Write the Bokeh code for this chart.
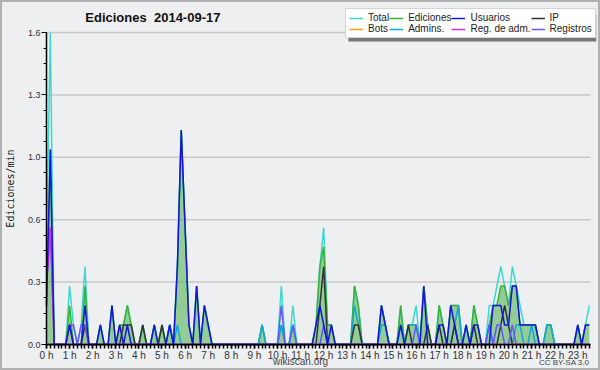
from bokeh.plotting import figure
from bokeh.models import (Range1d, FixedTicker, PrintfTickFormatter, CustomJSTickFormatter,
                          Legend, LegendItem, Label, BoxAnnotation, ColumnDataSource)
from bokeh.embed import file_html
from bokeh.resources import INLINE

# ---- data: edits per minute in 10-minute bins, 2014-09-17 (bin i starts at i*10 min) ----
bin_minutes = 10
total = [0.5, 1.6, 0, 0, 0, 0, 0.3, 0.1, 0, 0.1, 0.4, 0,
         0, 0, 0.1, 0, 0, 0.2, 0, 0.1, 0.1, 0.2, 0.1, 0,
         0, 0.1, 0, 0, 0.1, 0, 0.1, 0, 0.1, 0, 0.4, 1.1,
         0.6, 0.1, 0, 0.3, 0, 0.2, 0.1, 0, 0, 0, 0, 0,
         0, 0, 0, 0, 0, 0, 0, 0, 0.1, 0, 0, 0,
         0, 0.3, 0, 0, 0.2, 0, 0, 0, 0, 0, 0.1, 0.4,
         0.6, 0.1, 0.1, 0, 0, 0, 0, 0, 0.3, 0.2, 0, 0,
         0, 0, 0, 0.2, 0.1, 0, 0, 0, 0.2, 0, 0.1, 0.1,
         0.2, 0, 0.3, 0.1, 0, 0, 0.2, 0.1, 0, 0.2, 0.2, 0.2,
         0, 0.1, 0, 0.2, 0.1, 0, 0, 0.2, 0.2, 0.3, 0.4, 0.3,
         0.2, 0.4, 0.3, 0.2, 0.1, 0.1, 0.1, 0.1, 0, 0, 0.1, 0.1,
         0, 0, 0, 0, 0, 0, 0.1, 0, 0.1, 0.2]
ediciones = [0.2, 1.0, 0, 0, 0, 0, 0.2, 0, 0, 0, 0.3, 0,
             0, 0, 0.1, 0, 0, 0.2, 0, 0.1, 0.1, 0.2, 0.1, 0,
             0, 0.1, 0, 0, 0.1, 0, 0.1, 0, 0.1, 0, 0.4, 1.1,
             0.6, 0.1, 0, 0.3, 0, 0.2, 0.1, 0, 0, 0, 0, 0,
             0, 0, 0, 0, 0, 0, 0, 0, 0.1, 0, 0, 0,
             0, 0.1, 0, 0, 0.1, 0, 0, 0, 0, 0, 0.1, 0.4,
             0.5, 0.1, 0.1, 0, 0, 0, 0, 0, 0.3, 0.2, 0, 0,
             0, 0, 0, 0.2, 0.1, 0, 0, 0, 0.2, 0, 0.1, 0.1,
             0.1, 0, 0.3, 0.1, 0, 0, 0.2, 0.1, 0, 0.2, 0.2, 0.2,
             0, 0.1, 0, 0.2, 0.1, 0, 0, 0.1, 0.2, 0.2, 0.3, 0.3,
             0.2, 0.3, 0.3, 0.1, 0.1, 0.1, 0.1, 0.1, 0, 0, 0.1, 0.1,
             0, 0, 0, 0, 0, 0, 0.1, 0, 0.1, 0.1]
usuarios = [0.2, 1.0, 0, 0, 0, 0, 0.1, 0, 0, 0, 0.2, 0,
            0, 0, 0.1, 0, 0, 0.2, 0, 0.1, 0, 0.1, 0, 0,
            0, 0, 0, 0, 0.1, 0, 0, 0, 0.1, 0, 0.4, 1.1,
            0.6, 0.1, 0, 0.3, 0, 0.2, 0.1, 0, 0, 0, 0, 0,
            0, 0, 0, 0, 0, 0, 0, 0, 0, 0, 0, 0,
            0, 0, 0, 0, 0, 0, 0, 0, 0, 0, 0.1, 0.2,
            0.1, 0, 0.1, 0, 0, 0, 0, 0, 0, 0, 0, 0,
            0, 0, 0, 0.2, 0.1, 0, 0, 0, 0.1, 0, 0, 0,
            0, 0, 0.3, 0, 0, 0, 0.1, 0.1, 0, 0.2, 0.1, 0,
            0, 0.1, 0, 0.1, 0.1, 0, 0, 0, 0.2, 0.2, 0.2, 0.1,
            0.1, 0.3, 0.3, 0.1, 0.1, 0.1, 0.1, 0.1, 0, 0, 0, 0,
            0, 0, 0, 0, 0, 0, 0.1, 0, 0.1, 0.1]
ip = [0, 0, 0, 0, 0, 0, 0.1, 0, 0, 0, 0.1, 0,
      0, 0, 0, 0, 0, 0, 0, 0, 0.1, 0.1, 0.1, 0,
      0, 0.1, 0, 0, 0, 0, 0.1, 0, 0, 0, 0, 0,
      0, 0, 0, 0, 0, 0, 0, 0, 0, 0, 0, 0,
      0, 0, 0, 0, 0, 0, 0, 0, 0, 0, 0, 0,
      0, 0, 0, 0, 0, 0, 0, 0, 0, 0, 0, 0.2,
      0.4, 0, 0, 0, 0, 0, 0, 0, 0.1, 0.1, 0, 0,
      0, 0, 0, 0, 0, 0, 0, 0, 0, 0, 0.1, 0,
      0, 0, 0, 0.1, 0, 0, 0.1, 0, 0, 0, 0.1, 0,
      0, 0, 0, 0.1, 0, 0, 0, 0, 0, 0, 0.1, 0.2,
      0.1, 0, 0, 0, 0, 0, 0, 0, 0, 0, 0, 0,
      0, 0, 0, 0, 0, 0, 0, 0, 0, 0]
bots = [0] * 142
admins = [0, 0, 0, 0, 0, 0, 0, 0, 0, 0, 0, 0,
          0, 0, 0, 0, 0, 0, 0, 0, 0, 0, 0, 0,
          0, 0, 0, 0, 0, 0, 0, 0, 0.1, 0, 0.1, 0,
          0, 0, 0, 0, 0, 0, 0, 0, 0, 0, 0, 0,
          0, 0, 0, 0, 0, 0, 0, 0, 0.1, 0, 0, 0,
          0, 0.1, 0, 0, 0.1, 0, 0, 0, 0, 0, 0, 0,
          0, 0, 0, 0, 0, 0, 0, 0, 0.2, 0.1, 0, 0,
          0, 0, 0, 0.1, 0.1, 0, 0, 0, 0.1, 0, 0.1, 0.1,
          0.1, 0, 0, 0, 0, 0, 0, 0, 0, 0, 0.1, 0.2,
          0, 0, 0, 0, 0, 0, 0, 0.1, 0, 0, 0, 0,
          0, 0, 0.1, 0.1, 0, 0, 0.1, 0, 0, 0, 0.1, 0.1,
          0, 0, 0, 0, 0, 0, 0, 0, 0, 0]
reg_adm = [0.3, 0.6] + [0] * 140
registros = [0.3, 0.6, 0, 0, 0, 0, 0.1, 0.1, 0, 0.1, 0.1, 0,
             0, 0, 0, 0, 0, 0, 0, 0, 0, 0, 0, 0,
             0, 0, 0, 0, 0, 0, 0, 0, 0, 0, 0, 0,
             0, 0, 0, 0, 0, 0, 0, 0, 0, 0, 0, 0,
             0, 0, 0, 0, 0, 0, 0, 0, 0, 0, 0, 0,
             0, 0.2, 0, 0, 0.1, 0, 0, 0, 0, 0, 0, 0,
             0.1, 0, 0, 0, 0, 0, 0, 0, 0, 0, 0, 0,
             0, 0, 0, 0, 0, 0, 0, 0, 0, 0, 0, 0,
             0.1, 0, 0, 0, 0, 0, 0, 0, 0, 0, 0, 0,
             0, 0, 0, 0, 0, 0, 0, 0.1, 0, 0.1, 0.1, 0,
             0, 0.1, 0, 0, 0, 0, 0, 0, 0, 0, 0, 0,
             0, 0, 0, 0, 0, 0, 0, 0, 0, 0]

series_names = ["Total", "Ediciones", "Usuarios", "IP", "Bots", "Admins.", "Reg. de adm.", "Registros"]
y_ticks = [0, 0.32, 0.64, 0.96, 1.28, 1.6]
hour_ticks = list(range(24))
title_text = "Ediciones\u00a0 2014-09-17"

hours = [i * bin_minutes / 60 for i in range(len(total))]
x_end = 23.55
src = ColumnDataSource(dict(x=hours, total=total, ed=ediciones, us=usuarios, ip=ip, bots=bots,
                            adm=admins, radm=reg_adm, reg=registros, zero=[0] * len(total)))
grid_src = ColumnDataSource(dict(y=y_ticks[1:], x0=[0] * 5, x1=[x_end] * 5))

# the frame covers the whole canvas; axes sit at fixed locations and are bounded to the data area
p = figure(width=600, height=370, output_backend="svg", toolbar_location=None, title=None,
           x_range=Range1d(-1.9913, 23.983), y_range=Range1d(-0.1333, 1.7641),
           min_border_left=0, min_border_right=0, min_border_top=0, min_border_bottom=0,
           background_fill_color="#eeeff1", border_fill_color="#eeeff1")
p.outline_line_color = "#b0b0b0"
p.outline_line_width = 3
p.xgrid.visible = False
p.ygrid.visible = False

# axes
p.yaxis.ticker = FixedTicker(ticks=y_ticks, minor_ticks=[i * 0.08 for i in range(21)])
p.yaxis.formatter = PrintfTickFormatter(format="%.1f")
p.yaxis.bounds = (0, 1.6)
p.yaxis.fixed_location = 0
p.xaxis.ticker = FixedTicker(ticks=hour_ticks, minor_ticks=[i / 6 for i in range(142)])
p.xaxis.formatter = CustomJSTickFormatter(code="return tick + ' h'")
p.xaxis.fixed_location = 0
p.xaxis.bounds = (0, x_end)
for ax in (p.xaxis, p.yaxis):
    ax.axis_line_color = "black"
    ax.axis_line_width = 1.5
    ax.major_tick_line_color = "black"
    ax.minor_tick_line_color = "black"
    ax.major_tick_in = 0
    ax.minor_tick_in = 0
    ax.major_label_text_color = "#333333"
    ax.major_label_text_font = "Liberation Sans"
p.xaxis.major_tick_out = 4
p.xaxis.minor_tick_out = 4
p.xaxis.major_tick_line_width = 1.5
p.xaxis.minor_tick_line_width = 1.5
p.xaxis.major_label_text_font_size = "10px"
p.xaxis.major_label_standoff = 1
p.yaxis.major_tick_out = 5
p.yaxis.minor_tick_out = 3
p.yaxis.major_label_text_font_size = "9px"
p.yaxis.major_label_standoff = 1
p.yaxis.axis_label = "Ediciones/min"
p.yaxis.axis_label_text_font = "DejaVu Sans Mono"
p.yaxis.axis_label_text_font_style = "normal"
p.yaxis.axis_label_text_font_size = "10px"
p.yaxis.axis_label_text_color = "#222222"
p.yaxis.axis_label_standoff = 9

# horizontal grid lines at the y ticks
p.segment(x0="x0", x1="x1", y0="y", y1="y", source=grid_src, line_color="#c9c9c9", line_width=1.5)

# glyphs
p.varea(x="x", y1="zero", y2="ed", source=src, fill_color="#3caa3c", fill_alpha=0.5)
r_total = p.line("x", "total", source=src, line_color="#3fd8cf", line_width=1.5)
r_ed = p.line("x", "ed", source=src, line_color="#38b238", line_width=1.5)
r_adm = p.line("x", "adm", source=src, line_color="#12a6d9", line_width=1.5)
r_ip = p.line("x", "ip", source=src, line_color="#333333", line_width=1.5)
r_bots = p.line("x", "bots", source=src, line_color="#ff9a1a", line_width=1.5)
r_reg = p.line("x", "reg", source=src, line_color="#6257ff", line_width=1.5)
r_radm = p.line("x", "radm", source=src, line_color="#d22fd8", line_width=1.5)
r_us = p.line("x", "us", source=src, line_color="#1414dc", line_width=1.5)

# legend with shadow
shadow = BoxAnnotation(left=13.07, right=23.8, top=1.692, bottom=1.554,
                       fill_color="#777777", fill_alpha=1, line_color=None)
p.add_layout(shadow)
items = [LegendItem(label=n, renderers=[r]) for n, r in zip(
    series_names, [r_total, r_ed, r_us, r_ip, r_bots, r_adm, r_radm, r_reg])]
legend = Legend(items=items, location=(345, 332), orientation="horizontal", ncols=4,
                label_text_font="Liberation Sans", label_text_font_size="10px",
                label_text_line_height=0.9, label_text_color="#222222",
                label_height=8, glyph_height=8, glyph_width=14,
                label_standoff=5, spacing=0, padding=3, margin=0,
                border_line_color="#aaaaaa", background_fill_color="white", background_fill_alpha=1)
p.add_layout(legend)

# texts
p.add_layout(Label(x=1.68, y=1.677, text=title_text, text_font="Liberation Sans",
                   text_font_style="bold", text_font_size="13px", text_baseline="middle",
                   text_color="#111111"))
p.add_layout(Label(x=11.0, y=-0.087, text="wikiscan.org", text_font="Liberation Sans",
                   text_font_size="10px", text_align="center", text_baseline="middle",
                   text_color="#444444"))
p.add_layout(Label(x=23.5, y=-0.092, text="CC BY-SA 3.0", text_font="Liberation Sans",
                   text_font_size="8px", text_align="right", text_baseline="middle",
                   text_color="#444444"))

open("out.html", "w").write(file_html(p, INLINE))
